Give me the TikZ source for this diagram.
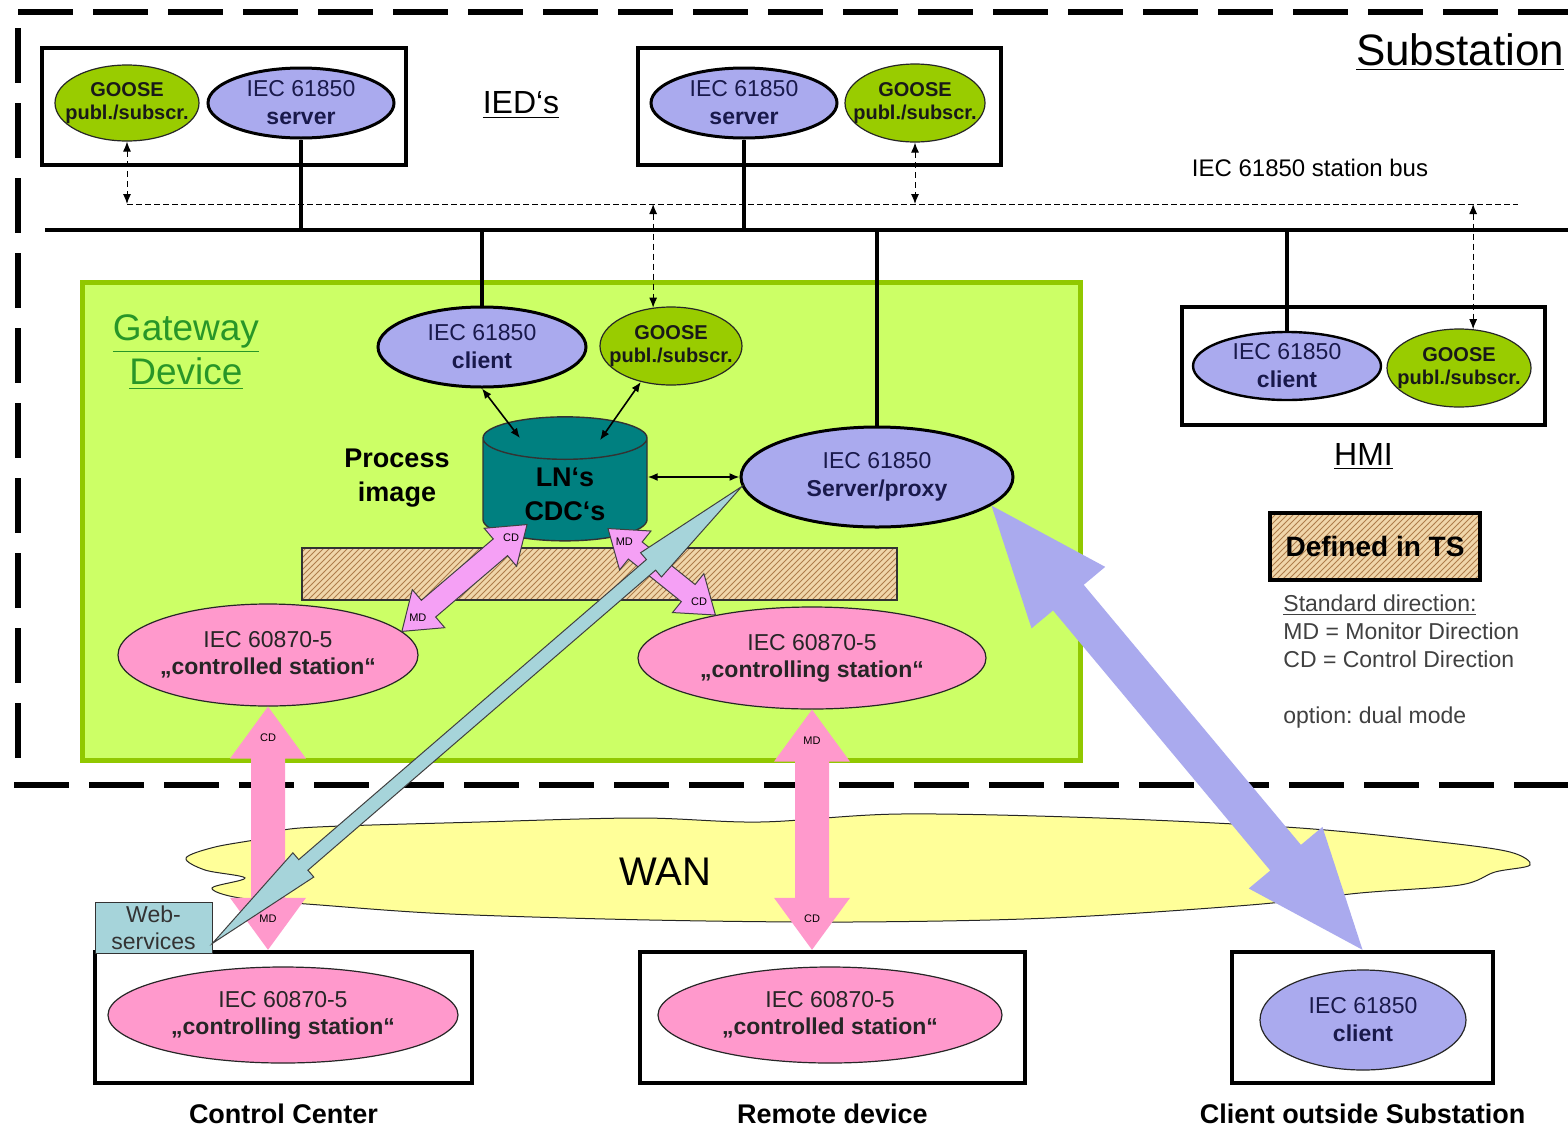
\documentclass[tikz,border=0pt]{standalone}
\usepackage{fontspec}
\setmainfont{Liberation Sans}
\usetikzlibrary{arrows.meta,positioning,calc,shapes.geometric,patterns}
\definecolor{gwlav}{RGB}{170,170,238}
\definecolor{gwgoose}{RGB}{153,204,0}
\definecolor{gwlime}{RGB}{204,255,102}
\definecolor{gwedge}{RGB}{145,200,0}
\definecolor{gwtxt}{RGB}{40,150,40}
\definecolor{gwteal}{RGB}{0,128,128}
\definecolor{gwpink}{RGB}{255,153,204}
\definecolor{gwviolet}{RGB}{245,160,245}
\definecolor{gwweb}{RGB}{166,212,218}
\definecolor{gwwan}{RGB}{255,255,153}
\definecolor{gwtan}{RGB}{240,214,170}
\definecolor{gwhatch}{RGB}{175,125,75}
\definecolor{gwink}{RGB}{25,25,75}
\newcommand\setfs[2]{\fontsize{#1}{#2}\selectfont}
% fat double arrow: name, style, from, to, shaft, head, head length, text at from, text at to
\newcommand\fatarrow[9]{%
  \coordinate (#1-s) at (#3);
  \coordinate (#1-e) at (#4);
  \coordinate (#1-p) at ($(#1-s)!#7!(#1-e)$);
  \coordinate (#1-q) at ($(#1-e)!#7!(#1-s)$);
  \path[#2] (#1-s) -- ($(#1-p)!#6!90:(#1-e)$) -- ($(#1-p)!#5!90:(#1-e)$)
    -- ($(#1-q)!#5!-90:(#1-s)$) -- ($(#1-q)!#6!-90:(#1-s)$) -- (#1-e)
    -- ($(#1-q)!#6!90:(#1-s)$) -- ($(#1-q)!#5!90:(#1-s)$)
    -- ($(#1-p)!#5!-90:(#1-e)$) -- ($(#1-p)!#6!-90:(#1-e)$) -- cycle;
  \node[dirtxt] (#1-a) at ($(#1-s)!#7*0.6!(#1-e)$) {#8};
  \node[dirtxt] (#1-b) at ($(#1-e)!#7*0.6!(#1-s)$) {#9};
}
\tikzset{
  subframe/.style={draw=black, line width=3pt, dash pattern=on 27.5pt off 10pt},
  gwbox/.style={draw=gwedge, line width=2.5pt, fill=gwlime},
  devbox/.style={draw=black, line width=2.2pt, fill=white},
  tsarea/.style={draw=black!80, line width=0.6pt, preaction={fill=gwtan},
    pattern=north east lines, pattern color=gwhatch},
  tsbox/.style={tsarea, draw=black, line width=2pt, font=\bfseries\setfs{14}{16}},
  webbox/.style={draw=black!80, line width=0.5pt, fill=gwweb, align=center,
    inner sep=1pt, font=\setfs{11.5}{13.5}, text=black!80},
  gwell/.style={ellipse, inner sep=0pt},
  srv/.style={gwell, draw=black, line width=1.5pt, fill=gwlav},
  goose/.style={gwell, draw=black!85, line width=0.6pt, fill=gwgoose},
  sta/.style={gwell, draw=black!85, line width=0.6pt, fill=gwpink},
  thincli/.style={gwell, draw=black!85, line width=0.6pt, fill=gwlav},
  srvtxt/.style={align=center, inner sep=0pt, text=gwink, font=\setfs{11.5}{14}},
  goosetxt/.style={align=center, inner sep=0pt, text=black!90, font=\bfseries\setfs{10}{11.5}},
  statxt/.style={align=center, inner sep=0pt, text=black!85, font=\setfs{11.5}{13.5}},
  cyl/.style={cylinder, shape border rotate=90, aspect=0.45, draw=black!80,
    line width=0.7pt, fill=gwteal, align=center, font=\bfseries\setfs{13.5}{17}},
  busln/.style={line width=2pt},
  dropln/.style={line width=1.8pt},
  gline/.style={line width=0.5pt, dash pattern=on 3pt off 1.5pt},
  garr/.style={{Latex[length=5pt,width=4pt]}-{Latex[length=5pt,width=4pt]},
    line width=0.5pt, dash pattern=on 3pt off 2pt},
  lnk/.style={{Latex[length=5pt,width=4pt]}-{Latex[length=5pt,width=4pt]}, line width=0.8pt},
  pinkarr/.style={fill=gwpink},
  violarr/.style={fill=gwviolet, draw=black!75, line width=0.5pt},
  webarr/.style={fill=gwweb, draw=black!75, line width=0.5pt},
  lavarr/.style={fill=gwlav},
  wan/.style={fill=gwwan, draw=black!85, line width=0.5pt},
  dirtxt/.style={font=\setfs{5.5}{6}, inner sep=0pt},
  ttl/.style={inner sep=0pt, font=\setfs{16}{19}},
  sitecap/.style={inner sep=0pt, font=\bfseries\setfs{13.5}{16}},
  notes/.style={inner sep=0pt, align=left, text=black!75, font=\setfs{11.5}{14}}
}
\begin{document}
\begin{tikzpicture}[x=0.5pt, y=-0.5pt, node distance=8pt]
  \useasboundingbox (0,0) rectangle (1568,1130);
  \fill[white] (0,0) rectangle (1568,1130);
  % substation frame
  \draw[subframe] (18,12) -- (1568,12) (18,28) -- (18,770) (14,785) -- (1568,785);

  % gateway device and wan
  \node[gwbox, minimum width=499pt, minimum height=239pt] (gw) at (581,521) {};
  \node[tsarea, minimum width=297.5pt, minimum height=26pt] (pimg) at (599.5,574) {};
  \draw[wan] plot[smooth cycle, tension=0.55] coordinates {
    (300,828) (480,822) (640,818) (760,822) (900,814) (1100,818) (1300,828)
    (1440,842) (1510,852) (1530,865) (1495,872) (1460,885) (1360,893)
    (1250,905) (1050,918) (850,922) (650,920) (450,914) (320,905) (240,898)
    (212,888) (245,878) (205,870) (186,858) (215,847) (265,838)};
  \node[font=\setfs{20}{24}, inner sep=0pt] (wanname) at (665,872) {WAN};

  % boxes
  \node[devbox, minimum width=182pt, minimum height=58.5pt] (ied1) at (224,106.5) {};
  \node[devbox, minimum width=181.5pt, minimum height=58.5pt] (ied2) at (819.5,106.5) {};
  \node[devbox, minimum width=181.5pt, minimum height=59pt] (hmibox) at (1363.5,366) {};
  \node[devbox, minimum width=188.5pt, minimum height=65.5pt] (ccbox) at (283.5,1017.5) {};
  \node[devbox, minimum width=192.5pt, minimum height=65.5pt] (rdbox) at (832.5,1017.5) {};
  \node[devbox, minimum width=130.5pt, minimum height=65.5pt] (cobox) at (1362.5,1017.5) {};
  \node[webbox, minimum width=58.5pt, minimum height=25.5pt] (webs) at (153.5,927.5) {Web-\\services};
  \node[tsbox, minimum width=105pt, minimum height=33.5pt] (ts) at (1375,546.5) {Defined in TS};

  % ellipses
  \node[goose, minimum width=72pt, minimum height=38pt,
    label={[goosetxt]center:GOOSE\\publ./subscr.}] (goose1) at (127,103) {};
  \node[srv, minimum width=93pt, minimum height=35pt,
    label={[srvtxt]center:IEC 61850\\\textbf{server}}] (srv1) at (301,103) {};
  \node[srv, minimum width=93pt, minimum height=35pt,
    label={[srvtxt]center:IEC 61850\\\textbf{server}}] (srv2) at (744,103) {};
  \node[goose, minimum width=70pt, minimum height=39pt,
    label={[goosetxt]center:GOOSE\\publ./subscr.}] (goose2) at (915,103) {};
  \node[srv, minimum width=104pt, minimum height=40pt,
    label={[srvtxt]center:IEC 61850\\\textbf{client}}] (gwcli) at (482,347) {};
  \node[goose, minimum width=71pt, minimum height=39pt,
    label={[goosetxt]center:GOOSE\\publ./subscr.}] (goose3) at (671,346) {};
  \node[cyl, minimum width=82pt, minimum height=62pt] (cyl) at (565,494) {LN‘s\\CDC‘s};
  \node[srv, minimum width=136pt, minimum height=50pt,
    label={[srvtxt]center:IEC 61850\\\textbf{Server/proxy}}] (srvpx) at (877,477) {};
  \node[sta, minimum width=150pt, minimum height=51pt,
    label={[statxt]center:IEC 60870-5\\\textbf{„controlled station“}}] (ctd1) at (268,655) {};
  \node[sta, minimum width=174pt, minimum height=51pt,
    label={[statxt]center:IEC 60870-5\\\textbf{„controlling station“}}] (ctg1) at (812,658) {};
  \node[srv, line width=1.2pt, minimum width=94pt, minimum height=34pt,
    label={[srvtxt]center:IEC 61850\\\textbf{client}}] (hmicli) at (1287,366) {};
  \node[goose, minimum width=72pt, minimum height=39pt,
    label={[goosetxt]center:GOOSE\\publ./subscr.}] (goose4) at (1459,368) {};
  \node[sta, minimum width=175pt, minimum height=48pt,
    label={[statxt]center:IEC 60870-5\\\textbf{„controlling station“}}] (ctg2) at (283,1015) {};
  \node[sta, minimum width=172pt, minimum height=48pt,
    label={[statxt]center:IEC 60870-5\\\textbf{„controlled station“}}] (ctd2) at (830,1015) {};
  \node[thincli, minimum width=103pt, minimum height=50pt,
    label={[srvtxt]center:IEC 61850\\\textbf{client}}] (outcli) at (1363,1020) {};

  % station bus
  \coordinate (busw) at (45,230);
  \coordinate (buse) at (1568,230);
  \draw[busln] (busw) -- (buse);
  \draw[dropln] (srv1.south) -- (srv1.south |- busw);
  \draw[dropln] (srv2.south) -- (srv2.south |- busw);
  \draw[dropln] (gwcli.north) -- (gwcli.north |- busw);
  \draw[dropln] (srvpx.north) -- (srvpx.north |- busw);
  \draw[dropln] (hmicli.north) -- (hmicli.north |- busw);

  % goose messages
  \coordinate (gl) at (goose1.south |- 0,204);
  \coordinate (gr) at (1518,204);
  \draw[gline] (gl) -- (gr);
  \draw[garr] (goose1.south) -- (gl);
  \draw[garr] (goose2.south) -- (goose2.south |- gl);
  \draw[garr] (goose3.115 |- gl) -- (goose3.115);
  \draw[garr] (goose4.70 |- gl) -- (goose4.70);

  % process image links
  \draw[lnk] (gwcli.south) -- ($(cyl.north)+(-45,22)$);
  \draw[lnk] (goose3.230) -- ($(cyl.north)+(35,24)$);
  \draw[lnk] (cyl.east |- srvpx) -- (srvpx);

  % fat arrows
  \fatarrow{pkl}{pinkarr}{ctd1.south}{ctd1.south |- ccbox.north}{8.5pt}{19pt}{26pt}{CD}{MD}
  \fatarrow{pkr}{pinkarr}{ctg1.south}{ctg1.south |- rdbox.north}{8.5pt}{19pt}{26pt}{MD}{CD}
  \fatarrow{vtl}{violarr}{$(cyl.south)+(-38,-17)$}{ctd1.10}{5.5pt}{12.5pt}{17.5pt}{CD}{MD}
  \fatarrow{vtr}{violarr}{$(cyl.south)+(43,-13)$}{ctg1.156}{5.5pt}{12.5pt}{17.5pt}{MD}{CD}
  \fatarrow{web}{webarr}{srvpx.184}{webs.-15}{3.5pt}{8pt}{60pt}{}{}
  \fatarrow{ocl}{lavarr}{srvpx.-14}{cobox.north}{10pt}{24pt}{60pt}{}{}

  % texts
  \node[ttl] (ieds) at (521,105) {\underline{IED‘s}};
  \node[ttl, font=\setfs{22}{26}] (subst) at (1460,52) {\underline{Substation}};
  \node[font=\setfs{12}{14}, inner sep=0pt] (busname) at (1310,168) {IEC 61850 station bus};
  \node[ttl, font=\setfs{18.5}{22}, text=gwtxt, align=center] (gwname) at (186,352)
    {\underline{Gateway}\\\underline{Device}};
  \node[font=\bfseries\setfs{13.5}{17}, align=center, inner sep=0pt] (procimg) at (397,478)
    {Process\\image};
  \node[ttl, below=8pt of hmibox] (hmi) {\underline{HMI}};
  \node[notes, anchor=north west] (std) at (1283,594)
    {\underline{Standard direction:}\\MD = Monitor Direction\\CD = Control Direction\\[14pt]option:\ dual mode};
  \node[sitecap, below=9pt of ccbox] (ccname) {Control Center};
  \node[sitecap, below=9pt of rdbox] (rdname) {Remote device};
  \node[sitecap, below=9pt of cobox] (coname) {Client outside Substation};
\end{tikzpicture}
\end{document}
